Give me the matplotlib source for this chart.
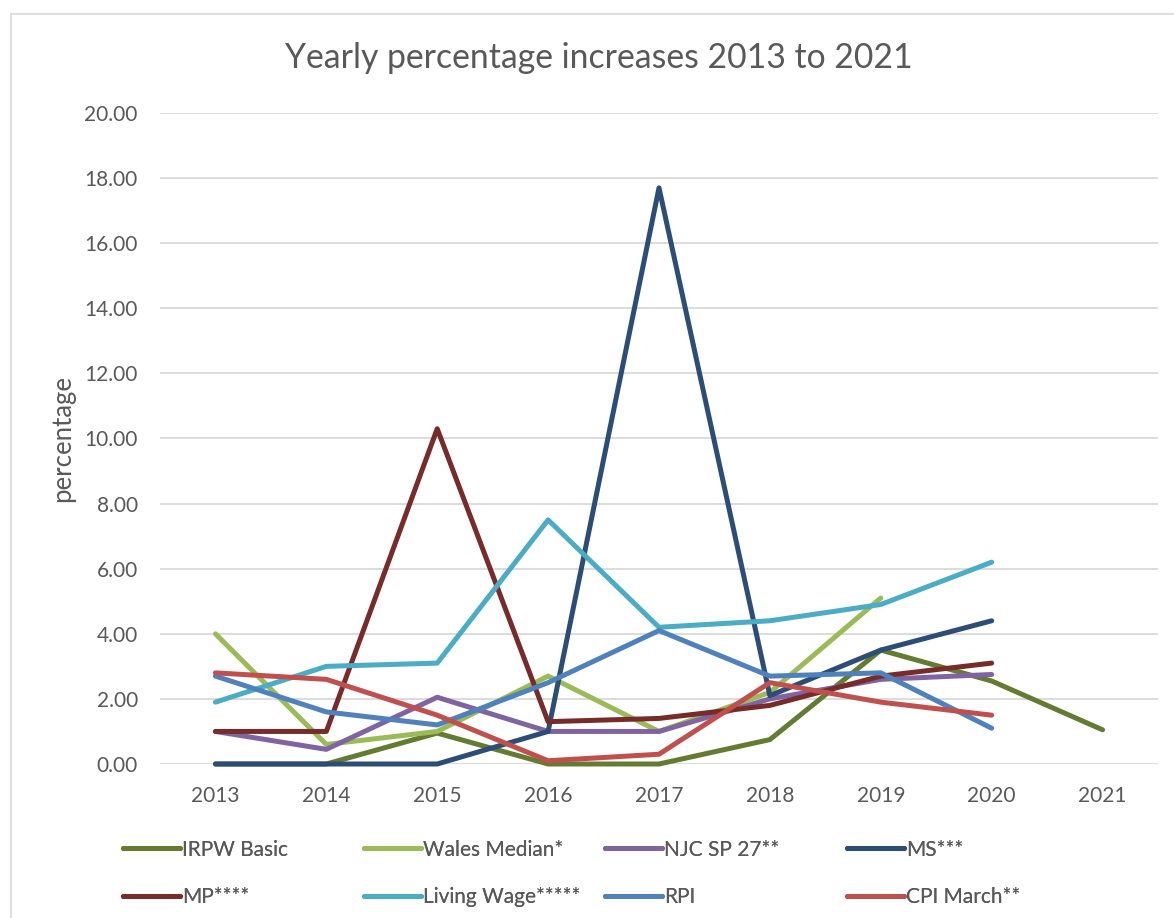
import matplotlib
matplotlib.use("Agg")
import matplotlib.pyplot as plt
from matplotlib.lines import Line2D

plt.rcParams['font.family'] = ['Lato', 'DejaVu Sans']

years = ['2013', '2014', '2015', '2016', '2017', '2018', '2019', '2020', '2021']

irpw_basic = [0.0, 0.0, 0.95, 0.0, 0.0, 0.75, 3.5, 2.55, 1.05]
wales_median = [4.0, 0.6, 1.0, 2.7, 1.0, 2.2, 5.1, None, None]
njc_sp27 = [1.0, 0.45, 2.05, 1.0, 1.0, 2.0, 2.6, 2.75, None]
ms = [0.0, 0.0, 0.0, 1.0, 17.7, 2.1, 3.5, 4.4, None]
mp = [1.0, 1.0, 10.3, 1.3, 1.4, 1.8, 2.7, 3.1, None]
living_wage = [1.9, 3.0, 3.1, 7.5, 4.2, 4.4, 4.9, 6.2, None]
rpi = [2.7, 1.6, 1.2, 2.5, 4.1, 2.7, 2.8, 1.1, None]
cpi_march = [2.8, 2.6, 1.5, 0.1, 0.3, 2.5, 1.9, 1.5, None]

series_names = ['IRPW Basic', 'Wales Median*', 'NJC SP 27**', 'MS***',
                'MP****', 'Living Wage*****', 'RPI', 'CPI March**']
series_values = [irpw_basic, wales_median, njc_sp27, ms,
                 mp, living_wage, rpi, cpi_march]
colors = ['#637C31', '#9BBB59', '#8064A2', '#2C4D75',
          '#772C2A', '#4BACC6', '#4F81BD', '#C0504D']

y_ticks = [0, 2, 4, 6, 8, 10, 12, 14, 16, 18, 20]

W, H = 1174, 918
fig = plt.figure(figsize=(W / 100, H / 100), dpi=100)

# chart-area border (left and top visible)
fig.add_artist(Line2D([11 / W, 11 / W], [0, 1 - 14 / H], transform=fig.transFigure,
                      color='#D9D9D9', lw=1.2))
fig.add_artist(Line2D([11 / W, 1], [1 - 14 / H, 1 - 14 / H], transform=fig.transFigure,
                      color='#D9D9D9', lw=1.2))

left, right = 160, 1158
bottom, top = 764, 113
ax = fig.add_axes([left / W, 1 - bottom / H, (right - left) / W, (bottom - top) / H])

text_color = '#595959'
xs = list(range(len(years)))
handles = []
for name, vals, c in zip(series_names, series_values, colors):
    px = [x for x, v in zip(xs, vals) if v is not None]
    py = [v for v in vals if v is not None]
    h, = ax.plot(px, py, color=c, lw=3.6, solid_capstyle='round',
                 solid_joinstyle='round', clip_on=False, label=name, zorder=3)
    handles.append(h)

ax.set_xlim(-0.5, len(years) - 0.5)
ax.set_ylim(0, 20)
ax.set_yticks(y_ticks)
ax.set_yticklabels([f'{v:.2f}' for v in y_ticks])
ax.set_xticks(xs)
ax.set_xticklabels(years)
ax.grid(axis='y', color='#D9D9D9', lw=1.3, zorder=0)
ax.set_axisbelow(True)
for s in ax.spines.values():
    s.set_visible(False)
ax.tick_params(axis='both', length=0, labelsize=15, labelcolor=text_color)
ax.tick_params(axis='y', pad=16)
ax.tick_params(axis='x', pad=16)

fig.text(63 / W, 1 - 439 / H, 'percentage', rotation=90, ha='center', va='center',
         fontsize=18.5, color=text_color)
fig.text(599 / W, 1 - 58 / H, 'Yearly percentage increases 2013 to 2021',
         ha='center', va='center', fontsize=24.3, color=text_color)

# legend: 4 equal-width columns, 2 rows
col_x = [123, 364, 605, 847]
row_y = [848, 893]
for k in range(4):
    hs = [handles[k], handles[k + 4]]
    leg = fig.legend(hs, [h.get_label() for h in hs], loc='center left',
                     bbox_to_anchor=((col_x[k] - 10) / W, 1 - ((row_y[0] + row_y[1]) / 2 + 3) / H),
                     frameon=False, fontsize=15, handlelength=2.7, handletextpad=0.1,
                     labelspacing=1.33, borderaxespad=0, borderpad=0.5,
                     labelcolor=text_color)
    fig.add_artist(leg)

fig.savefig('out.png', dpi=100)
